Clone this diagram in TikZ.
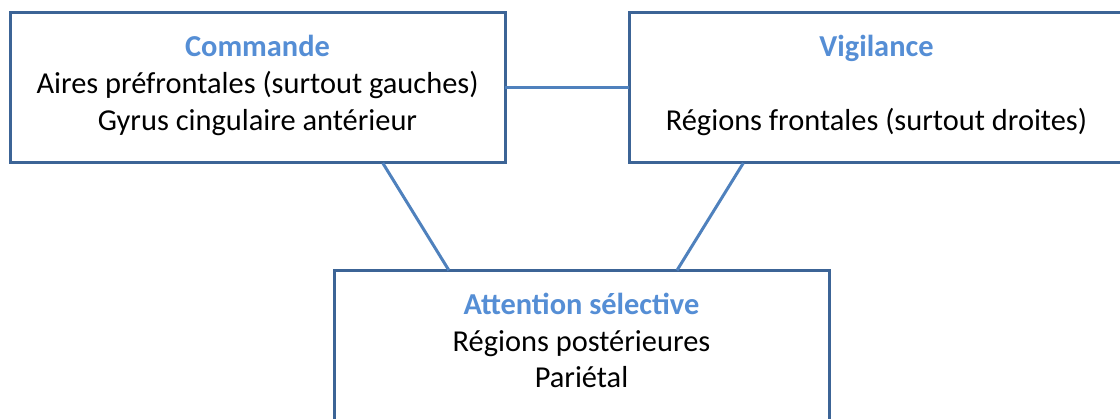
\documentclass[tikz,border=0pt]{standalone}
\usepackage{fontspec}
\setmainfont{Carlito}
\usetikzlibrary{positioning,calc}
\definecolor{boxline}{HTML}{3C6496}
\definecolor{linkline}{HTML}{4F81BD}
\definecolor{titleblue}{HTML}{558ED5}
\tikzset{
  zone/.style={draw=boxline, line width=3pt, fill=white, outer sep=0pt, inner sep=0pt,
    minimum width=495pt, minimum height=150.5pt, text width=485pt, align=flush center,
    text height=44pt, text depth=106.5pt,
    font=\fontsize{30.4}{36.8}\selectfont},
  link/.style={draw=linkline, line width=3pt},
}
\newcommand{\titre}[1]{{\color{titleblue}\bfseries #1}}

\begin{document}
\begin{tikzpicture}[x=1pt,y=-1pt]
  \useasboundingbox (0,0) rectangle (1120,419);
  \clip (0,0) rectangle (1120,419);
  % les trois zones
  \node[zone] (cmd) at (257.5,87.75)
    {\titre{Commande}\\Aires préfrontales (surtout gauches)\\Gyrus cingulaire antérieur};
  \node[zone, right=124pt of cmd] (vig)
    {\titre{Vigilance}\\[36.8pt]Régions frontales (surtout droites)};
  \node[zone] (att) at (581.5,345.5)
    {\titre{Attention sélective}\\Régions postérieures\\Pariétal};
  % liaisons
  \draw[link] (cmd.east) -- (vig.west);
  \draw[link] ($(cmd.south west)!0.753!(cmd.south east)$) -- ($(att.north west)!0.232!(att.north east)$);
  \draw[link] ($(vig.south west)!0.231!(vig.south east)$) -- ($(att.north west)!0.693!(att.north east)$);
\end{tikzpicture}
\end{document}
